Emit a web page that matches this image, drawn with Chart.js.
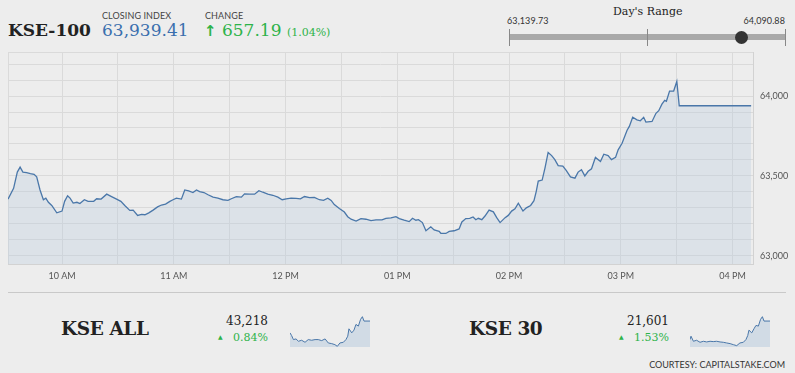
<!DOCTYPE html>
<html>
<head>
<meta charset="utf-8">
<script src="https://cdn.jsdelivr.net/npm/chart.js@4.4.0/dist/chart.umd.min.js"></script>
<style>
  body { margin: 0; background: #ededed; }
  #page { position: relative; width: 795px; height: 373px; overflow: hidden; background: #ededed; font-family: Lato, sans-serif; }
  .abs { position: absolute; white-space: nowrap; }
  .serif { font-family: "DejaVu Serif", serif; }
  .lbl { font-size: 9px; color: #444; letter-spacing: 0.1px; }
  .green { color: #2db34a; }
</style>
</head>
<body>
<div id="page">
  <div class="abs serif" style="left:8px;top:20px;font-size:17px;font-weight:bold;color:#222;">KSE-100</div>
  <div class="abs lbl" style="left:102px;top:10px;">CLOSING INDEX</div>
  <div class="abs serif" id="closeTxt" style="left:102px;top:20px;font-size:17px;color:#3a6fae;"></div>
  <div class="abs lbl" style="left:205px;top:10px;">CHANGE</div>
  <div class="abs serif green" id="chgTxt" style="left:204px;top:20px;font-size:17px;"></div>

  <div class="abs serif" style="left:613px;top:5px;font-size:11px;color:#222;">Day's Range</div>
  <div class="abs lbl" id="lowTxt" style="left:507px;top:15px;color:#333;"></div>
  <div class="abs lbl" id="highTxt" style="right:10px;top:15px;color:#333;"></div>
  <div class="abs" style="left:509px;top:34px;width:276px;height:6px;background:#a9a9a9;"></div>
  <div class="abs" style="left:509px;top:29px;width:1px;height:17px;background:#888;"></div>
  <div class="abs" style="left:647px;top:29px;width:1px;height:17px;background:#888;"></div>
  <div class="abs" style="left:785px;top:29px;width:1px;height:17px;background:#888;"></div>
  <div class="abs" id="dot" style="top:31px;width:13px;height:13px;border-radius:50%;background:#333;"></div>

  <div class="abs" style="left:0;top:40px;width:795px;height:250px;"><canvas id="mainChart"></canvas></div>

  <div class="abs" style="left:8px;top:292px;width:778px;height:1px;background:#c9c9c9;"></div>

  <div class="abs serif" style="left:61px;top:318px;font-size:18.5px;font-weight:bold;color:#222;letter-spacing:-0.4px;">KSE ALL</div>
  <div class="abs serif" id="allVal" style="right:527px;top:314px;font-size:12px;color:#222;"></div>
  <div class="abs serif green" id="allChg" style="right:527px;top:331px;font-size:11px;"></div>
  <div class="abs" style="left:290px;top:316px;width:80px;height:31px;"><canvas id="sparkAll"></canvas></div>

  <div class="abs serif" style="left:469px;top:318px;font-size:18.5px;font-weight:bold;color:#222;letter-spacing:-0.4px;">KSE 30</div>
  <div class="abs serif" id="k30Val" style="right:126px;top:314px;font-size:12px;color:#222;"></div>
  <div class="abs serif green" id="k30Chg" style="right:126px;top:331px;font-size:11px;"></div>
  <div class="abs" style="left:690px;top:316px;width:80px;height:31px;"><canvas id="spark30"></canvas></div>

  <div class="abs" style="right:10px;top:359px;font-size:9px;color:#333;">COURTESY: CAPITALSTAKE.COM</div>
</div>
<script>
// KSE-100 intraday, minutes after midnight
const times = [571, 574, 576, 577.5, 579, 581, 583, 585, 586.4, 588.2, 590, 591.3, 592.7, 594.5, 597.2, 600,
  601.4, 603, 604.3, 606, 608, 609.6, 612, 614, 617, 618.6, 621, 624, 626.6, 629.3, 631.6, 633.7, 636.4,
  638.2, 640.6, 642.7, 644.5, 646.6, 648.9, 651.3, 653.4, 655.6, 657.9, 659.6, 661.4, 664.1, 665.9, 668,
  670.3, 672.2, 673.9, 676.2, 678.4, 681.1, 683.7, 686.4, 689.1, 690.9, 693.6, 696.3, 698, 700.7, 703.4,
  705.7, 707.8, 710.5, 713.2, 715.9, 718.2, 720.4, 723, 725.7, 728, 730.2, 732.9, 735.5, 738.2, 740.4,
  742.7, 744.5, 746.2, 748.9, 751.6, 753.4, 755.2, 757.9, 760.5, 763.2, 765.9, 768.6, 771.8, 773.9, 776.6,
  779.3, 781.1, 783.7, 786.4, 788.2, 790, 791.4, 793.5, 795.4, 798, 799.8, 802.5, 803.4, 806.1, 807.9,
  810.5, 813.2, 814.7, 816.8, 818.9, 820.7, 822.2, 823.5, 825.4, 827.1, 829.3, 831.6, 833.4, 835.2, 837.9,
  839.6, 841.4, 843.2, 845, 847.5, 849.3, 851.6, 853.4, 854.6, 855.7, 857.8, 859.3, 861, 862.9, 864.6,
  866.4, 868.9, 870.7, 873, 875.4, 877.1, 878.9, 880.7, 882.5, 884.3, 886.4, 889.1, 890.9, 893.2, 895,
  897.2, 898.6, 900.7, 903.4, 904.6, 906.4, 908.7, 910.5, 912.3, 913.5, 916.8, 918.9, 920.4, 922.1, 923.6,
  924.5, 926.2, 928.4, 930.1, 931.4, 970];
const closes = [63355, 63422, 63524, 63555, 63524, 63520, 63514, 63510, 63494, 63412, 63351, 63361, 63335, 63315, 63269, 63280,
  63341, 63376, 63361, 63330, 63335, 63327, 63351, 63341, 63341, 63357, 63355, 63386, 63371, 63355, 63341, 63315, 63284,
  63286, 63253, 63259, 63257, 63269, 63286, 63306, 63318, 63324, 63341, 63351, 63361, 63355, 63412, 63406,
  63396, 63412, 63402, 63396, 63382, 63367, 63361, 63351, 63347, 63357, 63371, 63367, 63388, 63386, 63386,
  63408, 63398, 63386, 63379, 63367, 63351, 63357, 63361, 63359, 63357, 63371, 63364, 63365, 63351, 63347,
  63361, 63347, 63321, 63296, 63274, 63245, 63229, 63218, 63233, 63229, 63220, 63225, 63225, 63235, 63237,
  63245, 63233, 63223, 63214, 63235, 63223, 63226, 63208, 63157, 63182, 63162, 63153, 63141, 63140, 63153,
  63157, 63168, 63212, 63233, 63235, 63243, 63226, 63235, 63226, 63249, 63286, 63275, 63239, 63208, 63239,
  63253, 63280, 63294, 63329, 63280, 63300, 63315, 63345, 63402, 63468, 63474, 63549, 63647, 63627, 63602,
  63565, 63561, 63535, 63494, 63486, 63524, 63539, 63500, 63529, 63545, 63616, 63590, 63636, 63627, 63602,
  63616, 63663, 63704, 63786, 63810, 63867, 63851, 63845, 63867, 63837, 63841, 63892, 63908, 63949, 63973,
  63967, 64031, 64031, 64091, 63939, 63939];

const closingIndex = 63939.41;
const change = 657.19;
const changePct = 1.04;
const dayLow = 63139.73;
const dayHigh = 64090.88;

const xTicks = [600, 630, 660, 690, 720, 750, 780, 810, 840, 870, 900, 930, 960];
const yTicks = [63000, 63100, 63200, 63300, 63400, 63500, 63600, 63700, 63800, 63900, 64000, 64100, 64200];

// sparklines
const allTimes = [571, 579, 588, 601, 613, 629, 646, 662, 679, 696, 712, 729, 746, 762, 779, 795, 807, 820,
  837, 850, 859, 865, 879, 890, 900, 912, 923, 932, 940, 970];
const allValues = [43008, 42960, 42888, 42900, 42858, 42876, 42840, 42888, 42876, 42888, 42888, 42870, 42900, 42828,
  42816, 42798, 42768, 42828, 42840, 42888, 42948, 43080, 43008, 43056, 43158, 43128, 43248, 43296, 43218, 43218];
const k30Times = [571, 576, 588, 604, 621, 638, 654, 671, 687, 704, 721, 737, 754, 771, 787, 804, 820, 837,
  850, 859, 865, 879, 890, 900, 912, 923, 932, 940, 970];
const k30Values = [21436, 21466, 21421, 21430, 21412, 21421, 21415, 21421, 21418, 21421, 21415, 21412, 21406, 21400,
  21391, 21382, 21406, 21412, 21436, 21472, 21520, 21496, 21532, 21562, 21556, 21616, 21640, 21601, 21601];

const fmt = (v, d) => v.toLocaleString('en-US', { minimumFractionDigits: d, maximumFractionDigits: d });

document.getElementById('closeTxt').textContent = fmt(closingIndex, 2);
document.getElementById('chgTxt').innerHTML =
  '<span style="font-family:\'DejaVu Sans\';font-weight:bold;font-size:15px">\u2191</span> ' + fmt(change, 2) +
  ' <span style="font-size:11px">(' + fmt(changePct, 2) + '%)</span>';
document.getElementById('lowTxt').textContent = fmt(dayLow, 2);
document.getElementById('highTxt').textContent = fmt(dayHigh, 2);
document.getElementById('dot').style.left = (509 + (closingIndex - dayLow) / (dayHigh - dayLow) * 276 - 6.5) + 'px';

document.getElementById('allVal').textContent = fmt(43218, 0);
document.getElementById('allChg').innerHTML = '<span style="font-size:6px;vertical-align:2px">\u25B2</span>&nbsp;&nbsp; 0.84%';
document.getElementById('k30Val').textContent = fmt(21601, 0);
document.getElementById('k30Chg').innerHTML = '<span style="font-size:6px;vertical-align:2px">\u25B2</span>&nbsp;&nbsp; 1.53%';

const hourLabel = (m) => {
  const h = Math.floor(m / 60);
  const h12 = h > 12 ? h - 12 : h;
  return (h12 < 10 && h >= 12 ? '0' : '') + h12 + (h >= 12 ? ' PM' : ' AM');
};

const xMin = 571, xMax = 971, yMin = 62947, yMax = 64273;

new Chart(document.getElementById('mainChart'), {
  type: 'line',
  data: {
    datasets: [{
      data: times.map((t, i) => ({ x: t, y: closes[i] })),
      borderColor: '#4a77a9',
      borderWidth: 1.3,
      backgroundColor: 'rgba(185, 202, 222, 0.32)',
      fill: 'start',
      pointRadius: 0,
      tension: 0
    }]
  },
  options: {
    responsive: true,
    maintainAspectRatio: false,
    animation: false,
    layout: { padding: { top: 7.7, left: 8, right: 0, bottom: 5.7 } },
    plugins: { legend: { display: false }, tooltip: { enabled: false } },
    scales: {
      x: {
        type: 'linear',
        min: xMin,
        max: xMax,
        afterBuildTicks: (s) => { s.ticks = [xMin].concat(xTicks).map(v => ({ value: v })); },
        afterFit: (s) => { s.height = 20; },
        grid: { color: '#dadada', drawTicks: false },
        border: { color: '#d2d2d2' },
        ticks: {
          padding: 6,
          maxRotation: 0,
          autoSkip: false,
          color: '#555',
          font: { family: 'Lato', size: 9 },
          callback: (v) => (v % 60 === 0 ? hourLabel(v) : '')
        }
      },
      y: {
        position: 'right',
        min: yMin,
        max: yMax,
        afterBuildTicks: (s) => { s.ticks = yTicks.concat([yMax]).map(v => ({ value: v })); },
        afterFit: (s) => { s.width = 42; },
        grid: { color: '#dadada', drawTicks: false },
        border: { color: '#d2d2d2' },
        ticks: {
          padding: 7,
          autoSkip: false,
          color: '#555',
          font: { family: 'Lato', size: 9 },
          callback: (v) => (v % 500 === 0 ? v.toLocaleString('en-US') : '')
        }
      }
    }
  }
});

function sparkline(id, xs, ys, lo, hi) {
  new Chart(document.getElementById(id), {
    type: 'line',
    data: {
      datasets: [{
        data: xs.map((t, i) => ({ x: t, y: ys[i] })),
        borderColor: '#4a77a9',
        borderWidth: 1,
        backgroundColor: 'rgba(190, 206, 224, 0.6)',
        fill: 'start',
        pointRadius: 0,
        tension: 0
      }]
    },
    options: {
      responsive: true,
      maintainAspectRatio: false,
      animation: false,
      layout: { padding: 0 },
      plugins: { legend: { display: false }, tooltip: { enabled: false } },
      scales: {
        x: { type: 'linear', display: false, min: 571, max: 970 },
        y: { display: false, min: lo, max: hi }
      }
    }
  });
}

sparkline('sparkAll', allTimes, allValues, 42756, 43308);
sparkline('spark30', k30Times, k30Values, 21370, 21646);
</script>
</body>
</html>
